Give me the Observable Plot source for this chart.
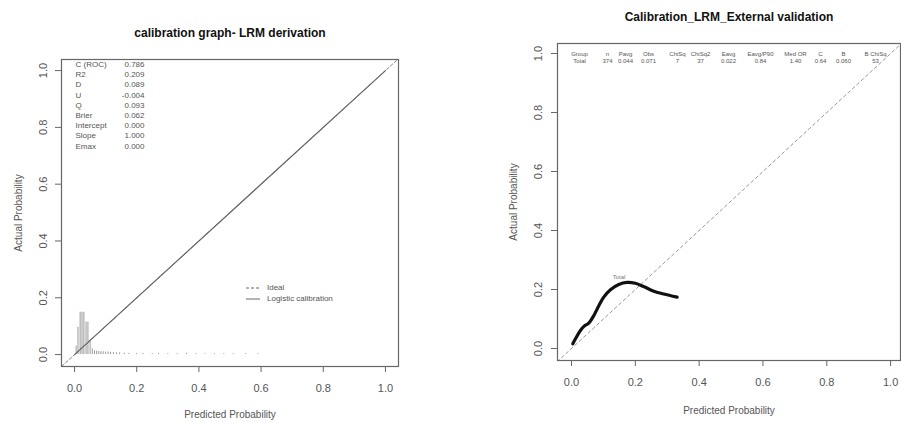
<!DOCTYPE html>
<html>
<head>
<meta charset="utf-8">
<script src="https://cdn.jsdelivr.net/npm/d3@7"></script>
<script src="https://cdn.jsdelivr.net/npm/@observablehq/plot@0.6"></script>
<style>
  body { margin: 0; background: #fff; }
  #wrap { position: relative; width: 901px; height: 423px; overflow: hidden; background: #fff; font-family: "Liberation Sans", Arial, sans-serif; }
  #left, #right { position: absolute; top: 0; }
  #left { left: 0; }
  #right { left: 450px; }
  #legend { position: absolute; left: 246px; top: 282px; font-size: 8px; color: #555; line-height: 11px; }
  #legend div { display: flex; align-items: center; }
  #legend svg { margin-right: 7px; }
</style>
</head>
<body>
<div id="wrap">
  <div id="left"></div>
  <div id="right"></div>
  <div id="legend"></div>
</div>
<script>
// ---------- data ----------
const xTicks = [0, 0.2, 0.4, 0.6, 0.8, 1.0];
const yTicks = [0, 0.2, 0.4, 0.6, 0.8, 1.0];
const tickLabels = ["0.0", "0.2", "0.4", "0.6", "0.8", "1.0"];

const leftTitle = "calibration graph- LRM derivation";
const rightTitle = "Calibration_LRM_External validation";
const xTitle = "Predicted Probability";
const yTitle = "Actual Probability";

const statLabels = ["C (ROC)", "R2", "D", "U", "Q", "Brier", "Intercept", "Slope", "Emax"];
const statValues = ["0.786", "0.209", "0.089", "-0.004", "0.093", "0.062", "0.000", "1.000", "0.000"];

// ideal line (abline 0,1) and logistic calibration (intercept 0, slope 1)
const idealX = [-0.1, 1.1];
const idealY = [-0.1, 1.1];
const calX = [0, 1];
const calY = [0, 1];

// spike histogram of predicted risks (derivation)
const spikeX = [0.005, 0.011, 0.018, 0.024, 0.03, 0.037, 0.043, 0.05, 0.057, 0.064, 0.071, 0.078, 0.085, 0.092, 0.1, 0.108, 0.116, 0.125, 0.135, 0.145, 0.16, 0.175, 0.2, 0.22, 0.25, 0.27, 0.3, 0.33, 0.36, 0.39, 0.42, 0.45, 0.48, 0.51, 0.55, 0.59];
const spikeH = [0.03, 0.096, 0.149, 0.149, 0.149, 0.114, 0.114, 0.049, 0.02, 0.013, 0.012, 0.011, 0.01, 0.01, 0.009, 0.009, 0.008, 0.007, 0.006, 0.006, 0.005, 0.004, 0.004, 0.004, 0.003, 0.004, 0.003, 0.003, 0.004, 0.003, 0.003, 0.003, 0.003, 0.003, 0.003, 0.003];

const legendLabels = ["Ideal", "Logistic calibration"];

// external validation
const extHeaders = ["Group", "n", "Pavg", "Obs", "ChiSq", "ChiSq2", "Eavg", "Eavg/P90", "Med OR", "C", "B", "B ChiSq"];
const extValues = ["Total", "374", "0.044", "0.071", "7", "37", "0.022", "0.84", "1.40", "0.64", "0.060", "53"];
const curveLabel = "Total";

const curveX = [0.004, 0.0125, 0.028, 0.039, 0.054, 0.070, 0.086, 0.101, 0.122, 0.148, 0.174, 0.200, 0.226, 0.258, 0.289, 0.331];
const curveY = [0.016, 0.033, 0.061, 0.075, 0.086, 0.112, 0.146, 0.174, 0.199, 0.217, 0.224, 0.221, 0.210, 0.194, 0.185, 0.174];

// ---------- helpers ----------
const FONT = "Liberation Sans, Arial, sans-serif";
const GREY = "#555";

function frameMarks(opts) {
  const {yDx, xDy, titleDy, yTitleDx, xTitleDy, title} = opts;
  return [
    Plot.frame({stroke: "#666", strokeWidth: 1.2}),
    Plot.axisX({ticks: xTicks, tickSize: 6, tickFormat: () => "", stroke: "#666", label: null}),
    Plot.axisY({ticks: yTicks, tickSize: 6, tickFormat: () => "", stroke: "#666", label: null}),
    Plot.text(xTicks, {x: d => d, frameAnchor: "bottom", dy: xDy, text: (d, i) => tickLabels[i], fontSize: 11, fill: GREY, lineAnchor: "middle"}),
    Plot.text(yTicks, {y: d => d, frameAnchor: "left", dx: -yDx, text: (d, i) => tickLabels[i], fontSize: 11, fill: GREY, rotate: -90, textAnchor: "middle", lineAnchor: "middle"}),
    Plot.text([yTitle], {frameAnchor: "left", dx: -yTitleDx, text: d => d, rotate: -90, fontSize: 10, fill: GREY, textAnchor: "middle", lineAnchor: "middle"}),
    Plot.text([xTitle], {frameAnchor: "bottom", dy: xTitleDy, text: d => d, fontSize: 10, fill: GREY, lineAnchor: "middle"}),
    Plot.text([title], {frameAnchor: "top", dy: titleDy, text: d => d, fontSize: 12, fontWeight: "bold", fill: "#111", lineAnchor: "middle"})
  ];
}

// ---------- left chart ----------
const spikes = spikeX.map((x, i) => ({x, h: spikeH[i]}));
const ideal = idealX.map((x, i) => ({x, y: idealY[i]}));
const cal = calX.map((x, i) => ({x, y: calY[i]}));

const left = Plot.plot({
  width: 450, height: 423,
  marginLeft: 61, marginRight: 52, marginTop: 59, marginBottom: 57,
  x: {domain: [-0.042, 1.042]},
  y: {domain: [-0.042, 1.039]},
  style: {fontFamily: FONT, background: "#fff", overflow: "visible"},
  marks: [
    Plot.ruleX(spikes, {x: "x", y1: 0, y2: "h", stroke: "#999", strokeWidth: 1}),
    Plot.line(ideal, {x: "x", y: "y", stroke: "#888", strokeWidth: 1, strokeDasharray: "3,2", clip: true}),
    Plot.line(cal, {x: "x", y: "y", stroke: "#666", strokeWidth: 1.2}),
    ...statLabels.map((t, i) => Plot.text([t], {frameAnchor: "top-left", dx: 14, dy: 5 + i * 10.2, text: d => d, fontSize: 8, fill: GREY, textAnchor: "start", lineAnchor: "middle"})),
    ...statValues.map((t, i) => Plot.text([t], {frameAnchor: "top-left", dx: 83, dy: 5 + i * 10.2, text: d => d, fontSize: 8, fill: GREY, textAnchor: "end", lineAnchor: "middle"})),
    ...frameMarks({yDx: 18, xDy: 22, titleDy: -26, yTitleDx: 43, xTitleDy: 48, title: leftTitle})
  ]
});
document.getElementById("left").appendChild(left);

// legend (left chart)
const lg = document.getElementById("legend");
legendLabels.forEach((t, i) => {
  const row = document.createElement("div");
  const dash = i === 0 ? 'stroke-dasharray="3,2"' : "";
  row.innerHTML = `<svg width="14" height="4"><line x1="0" x2="14" y1="2" y2="2" stroke="#666" stroke-width="1" ${dash}/></svg><span>${t}</span>`;
  lg.appendChild(row);
});

// ---------- right chart ----------
const curve = curveX.map((x, i) => ({x, y: curveY[i]}));
const peak = curve.reduce((a, b) => (b.y > a.y ? b : a));
const colDx = [22, 50, 68, 91, 120, 143, 171, 203, 238, 263, 286, 318];

const right = Plot.plot({
  width: 451, height: 423,
  marginLeft: 107, marginRight: 1, marginTop: 43, marginBottom: 63,
  x: {domain: [-0.0439, 1.031]},
  y: {domain: [-0.0407, 1.034]},
  style: {fontFamily: FONT, background: "#fff", overflow: "visible"},
  marks: [
    Plot.line(ideal, {x: "x", y: "y", stroke: "#999", strokeWidth: 1, strokeDasharray: "3,3", clip: true}),
    Plot.line(curve, {x: "x", y: "y", stroke: "#111", strokeWidth: 3.2, curve: "catmull-rom", strokeLinecap: "round"}),
    Plot.text([peak], {x: "x", y: "y", text: () => curveLabel, dx: -8, dy: -5, fontSize: 6, fill: "#777"}),
    ...extHeaders.map((t, i) => Plot.text([t], {frameAnchor: "top-left", dx: colDx[i], dy: 11, text: d => d, fontSize: 6, fill: GREY, textAnchor: "middle", lineAnchor: "middle"})),
    ...extValues.map((t, i) => Plot.text([t], {frameAnchor: "top-left", dx: colDx[i], dy: 18, text: d => d, fontSize: 6, fill: GREY, textAnchor: "middle", lineAnchor: "middle"})),
    ...frameMarks({yDx: 19, xDy: 22, titleDy: -26, yTitleDx: 44, xTitleDy: 50, title: rightTitle})
  ]
});
document.getElementById("right").appendChild(right);
</script>
</body>
</html>
